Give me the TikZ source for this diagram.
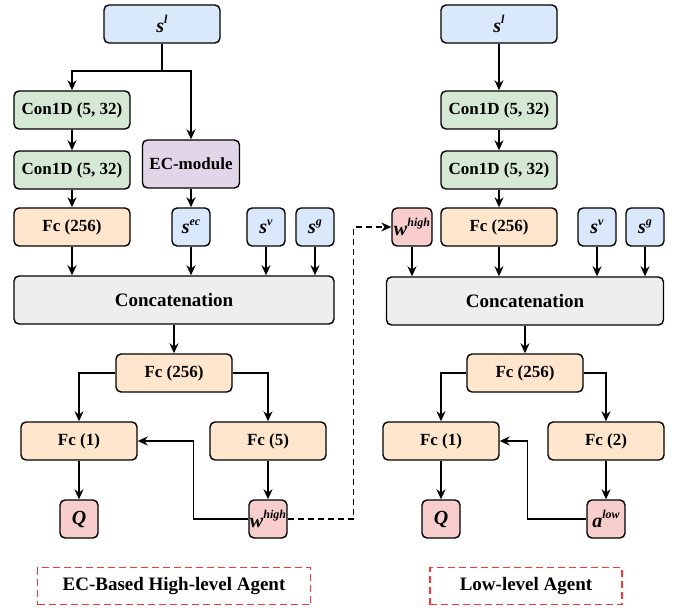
\documentclass[tikz,border=0pt]{standalone}
\usepackage{fontspec}
\setmainfont{Liberation Serif}
\usetikzlibrary{arrows.meta,positioning}
\definecolor{sky}{HTML}{DAE8FC}
\definecolor{mint}{HTML}{D5E8D4}
\definecolor{peach}{HTML}{FFE6CC}
\definecolor{lilac}{HTML}{E1D5E7}
\definecolor{rose}{HTML}{F8CECC}
\definecolor{ash}{HTML}{EEEEEE}
\definecolor{tomato}{HTML}{FF3333}
\tikzset{
  blk/.style={draw=black,line width=1.4pt,rounded corners=5pt,inner sep=0pt,
    font=\fontsize{17}{20}\selectfont\bfseries},
  wide/.style={blk,minimum width=116pt,minimum height=38pt},
  sq/.style={blk,minimum width=38pt,minimum height=38pt},
  link/.style={line width=1.4pt,-{Stealth[length=10pt,width=9pt]}},
  tag/.style={draw=tomato,dash pattern=on 7pt off 4pt,line width=1.4pt,minimum height=37pt,
    font=\fontsize{19}{22}\selectfont\bfseries}
}
\newcommand{\sym}[2]{{\fontsize{20}{22}\selectfont\bfseries\itshape #1\raisebox{0.42em}{\fontsize{12}{12}\selectfont #2}}}

\begin{document}
\begin{tikzpicture}[x=1pt,y=-1pt]
    \useasboundingbox (0,0) rectangle (683,612);
    % high-level agent
    \node[wide,fill=sky] (sl) at (162,24) {\sym{s}{l}};
    \node[wide,fill=mint] (ca) at (72,110) {Con1D (5, 32)};
    \node[wide,fill=mint] (cb) at (72,170) {Con1D (5, 32)};
    \node[blk,fill=lilac,minimum width=97pt,minimum height=48pt] (ec) at (191,164) {EC-module};
    \node[wide,fill=peach] (fa) at (72,227) {Fc (256)};
    \node[sq,fill=sky] (sec) at (191,227) {\sym{s}{ec}};
    \node[sq,fill=sky] (sv) at (266,227) {\sym{s}{v}};
    \node[sq,fill=sky] (sg) at (315,227) {\sym{s}{g}};
    \node[blk,fill=ash,minimum width=320pt,minimum height=48pt,font=\fontsize{19}{22}\selectfont\bfseries] (cat) at (174,300) {Concatenation};
    \node[wide,fill=peach] (fb) at (174,373) {Fc (256)};
    \node[wide,fill=peach] (fq) at (79,441) {Fc (1)};
    \node[wide,fill=peach] (fw) at (268,441) {Fc (5)};
    \node[sq,fill=rose] (q) at (79,519) {\sym{Q}{}};
    \node[sq,fill=rose] (wh) at (268,519) {\sym{w}{high}};
    \node[tag,minimum width=273pt] (tagh) at (174,586) {EC-Based High-level Agent};
    % low-level agent
    \node[wide,fill=sky] (sl2) at (499,24) {\sym{s}{l}};
    \node[wide,fill=mint] (ca2) at (499,110) {Con1D (5, 32)};
    \node[wide,fill=mint] (cb2) at (499,170) {Con1D (5, 32)};
    \node[wide,fill=peach] (fa2) at (499,227) {Fc (256)};
    \node[sq,fill=rose,minimum width=40pt] (wh2) at (412,227) {\sym{w}{high}};
    \node[sq,fill=sky] (sv2) at (597,227) {\sym{s}{v}};
    \node[sq,fill=sky] (sg2) at (645,227) {\sym{s}{g}};
    \node[blk,fill=ash,minimum width=277pt,minimum height=48pt,font=\fontsize{19}{22}\selectfont\bfseries] (cat2) at (525,301) {Concatenation};
    \node[wide,fill=peach] (fb2) at (525,373) {Fc (256)};
    \node[wide,fill=peach] (fq2) at (441,441) {Fc (1)};
    \node[wide,fill=peach] (fl2) at (606,441) {Fc (2)};
    \node[sq,fill=rose] (q2) at (441,519) {\sym{Q}{}};
    \node[sq,fill=rose] (al2) at (606,519) {\sym{a}{low}};
    \node[tag,minimum width=192pt] (tagl) at (526,586) {Low-level Agent};

    \coordinate (fork) at (162,71);
    \draw[line width=1.4pt] (sl) -- (fork);
    \draw[link] (fork) -| (ca);
    \draw[link] (fork) -| (ec);
    \draw[link] (ca) -- (cb);
    \draw[link] (cb) -- (fa);
    \draw[link] (ec) -- (sec);
    \foreach \n in {fa,sec,sv,sg}
      \draw[link] (\n) -- (\n |- cat.north);
    \draw[link] (cat) -- (fb);
    \draw[link] (fb.west) -| (fq);
    \draw[link] (fb.east) -| (fw);
    \draw[link] (fq) -- (q);
    \draw[link] (fw) -- (wh);
    \draw[link] (wh.west) -- ++(-55,0) |- (fq.east);
    \draw[link,dash pattern=on 6pt off 4pt] (wh.east) -- ++(66,0) |- (wh2.west);

    \draw[link] (sl2) -- (ca2);
    \draw[link] (ca2) -- (cb2);
    \draw[link] (cb2) -- (fa2);
    \foreach \n in {wh2,fa2,sv2,sg2}
      \draw[link] (\n) -- (\n |- cat2.north);
    \draw[link] (cat2) -- (fb2);
    \draw[link] (fb2.west) -| (fq2);
    \draw[link] (fb2.east) -| (fl2);
    \draw[link] (fq2) -- (q2);
    \draw[link] (fl2) -- (al2);
    \draw[link] (al2.west) -- ++(-59,0) |- (fq2.east);
  \end{tikzpicture}
\end{document}
